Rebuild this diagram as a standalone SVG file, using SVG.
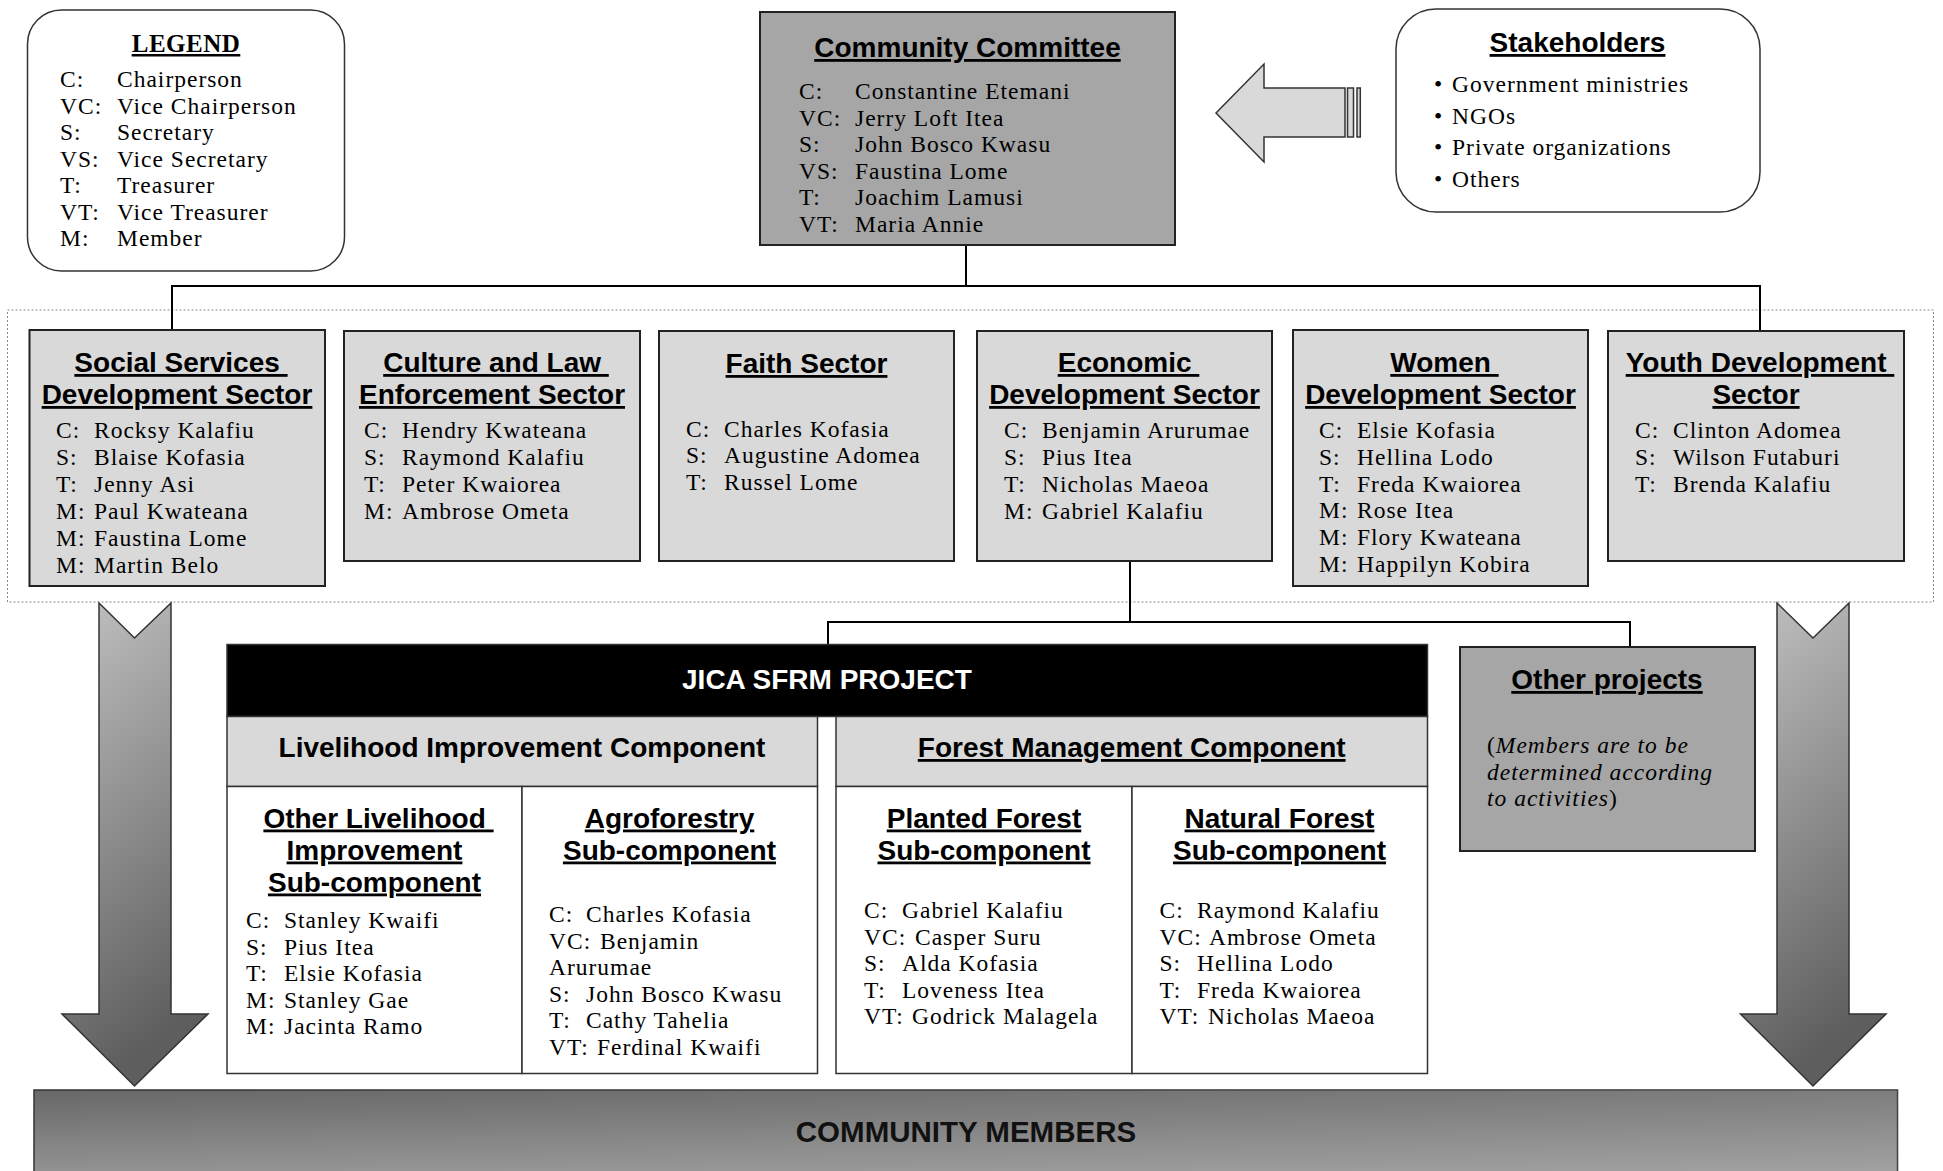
<svg xmlns="http://www.w3.org/2000/svg" width="1943" height="1171" viewBox="0 0 1943 1171">
  <style>
    .light { fill: #d9d9d9; stroke: #222; stroke-width: 2; }
    .mid { fill: #a6a6a6; stroke: #222; stroke-width: 2; }
    .white { fill: #ffffff; stroke: #333; stroke-width: 1.5; }
    .round { fill: #ffffff; stroke: #333; stroke-width: 1.5; }
    .hd { font-family: "Liberation Sans", Arial, sans-serif; font-weight: bold; font-size: 28px; text-anchor: middle; text-decoration: underline; text-decoration-thickness: 3px; fill: #000; }
    .hdplain { font-family: "Liberation Sans", Arial, sans-serif; font-weight: bold; font-size: 28px; text-anchor: middle; fill: #000; }
    .tx { font-family: "Liberation Serif", "Times New Roman", serif; font-size: 23.5px; letter-spacing: 1px; fill: #000; }
    .it { font-style: italic; }
    .conn { stroke: #000; stroke-width: 2; fill: none; }
    .arrow { stroke: #333; stroke-width: 1.5; }
  </style>
  <defs>
    <linearGradient id="downFill" x1="0" y1="0" x2="0.25" y2="1">
      <stop offset="0" stop-color="#c2c2c2"/>
      <stop offset="1" stop-color="#5e5e5e"/>
    </linearGradient>
    <linearGradient id="baseFill" x1="0" y1="1090" x2="0" y2="1190" gradientUnits="userSpaceOnUse">
      <stop offset="0" stop-color="#686868"/>
      <stop offset="1" stop-color="#9c9c9c"/>
    </linearGradient>
    <linearGradient id="baseSheen" x1="34" y1="0" x2="1897" y2="0" gradientUnits="userSpaceOnUse">
      <stop offset="0" stop-color="#ffffff" stop-opacity="0"/>
      <stop offset="1" stop-color="#ffffff" stop-opacity="0.14"/>
    </linearGradient>
  </defs>

  <!-- dotted frame around the sector row -->
  <rect x="7.5" y="310" width="1926" height="292" fill="none" stroke="#888" stroke-width="1" stroke-dasharray="2 2"/>

  <!-- connectors -->
  <g id="connectors">
    <line class="conn" x1="966" y1="245" x2="966" y2="286"/>
    <line class="conn" x1="171" y1="286" x2="1761" y2="286"/>
    <line class="conn" x1="172" y1="286" x2="172" y2="330"/>
    <line class="conn" x1="1760" y1="286" x2="1760" y2="331"/>
    <line class="conn" x1="1130" y1="561" x2="1130" y2="622"/>
    <line class="conn" x1="827" y1="622" x2="1631" y2="622"/>
    <line class="conn" x1="828" y1="622" x2="828" y2="644"/>
    <line class="conn" x1="1630" y1="622" x2="1630" y2="647"/>
  </g>

  <!-- legend -->
  <g id="legend">
    <rect class="round" x="27.5" y="10" width="317" height="261" rx="34" ry="34"/>
    <text class="tx" x="186" y="52" font-weight="bold" text-anchor="middle" text-decoration="underline" style="font-size:25px;letter-spacing:0.5px">LEGEND</text>
    <text class="tx" y="87"><tspan x="60">C:</tspan><tspan x="117">Chairperson</tspan></text>
    <text class="tx" y="113.5"><tspan x="60">VC:</tspan><tspan x="117">Vice Chairperson</tspan></text>
    <text class="tx" y="140"><tspan x="60">S:</tspan><tspan x="117">Secretary</tspan></text>
    <text class="tx" y="166.5"><tspan x="60">VS:</tspan><tspan x="117">Vice Secretary</tspan></text>
    <text class="tx" y="193"><tspan x="60">T:</tspan><tspan x="117">Treasurer</tspan></text>
    <text class="tx" y="219.5"><tspan x="60">VT:</tspan><tspan x="117">Vice Treasurer</tspan></text>
    <text class="tx" y="246"><tspan x="60">M:</tspan><tspan x="117">Member</tspan></text>
  </g>

  <!-- community committee -->
  <g id="committee">
    <rect class="mid" x="760" y="12" width="415" height="233"/>
    <text class="hd" x="967.5" y="57">Community Committee</text>
    <text class="tx" y="99"><tspan x="799">C:</tspan><tspan x="855">Constantine Etemani</tspan></text>
    <text class="tx" y="125.5"><tspan x="799">VC:</tspan><tspan x="855">Jerry Loft Itea</tspan></text>
    <text class="tx" y="152"><tspan x="799">S:</tspan><tspan x="855">John Bosco Kwasu</tspan></text>
    <text class="tx" y="178.5"><tspan x="799">VS:</tspan><tspan x="855">Faustina Lome</tspan></text>
    <text class="tx" y="205"><tspan x="799">T:</tspan><tspan x="855">Joachim Lamusi</tspan></text>
    <text class="tx" y="231.5"><tspan x="799">VT:</tspan><tspan x="855">Maria Annie</tspan></text>
  </g>

  <!-- arrow from stakeholders to committee -->
  <g id="stakeholder-arrow">
    <polygon class="arrow" fill="#d9d9d9" points="1216,113 1264,64 1264,88 1345,88 1345,137 1264,137 1264,162"/>
    <rect class="arrow" fill="#d9d9d9" x="1347.5" y="88" width="6" height="49"/>
    <rect class="arrow" fill="#d9d9d9" x="1357" y="88" width="3.3" height="49"/>
  </g>

  <!-- stakeholders -->
  <g id="stakeholders">
    <rect class="round" x="1396" y="9" width="364" height="203" rx="40" ry="40"/>
    <text class="hd" x="1577.5" y="52">Stakeholders</text>
    <text class="tx" y="92"><tspan x="1434">•</tspan><tspan x="1452">Government ministries</tspan></text>
    <text class="tx" y="123.5"><tspan x="1434">•</tspan><tspan x="1452">NGOs</tspan></text>
    <text class="tx" y="155"><tspan x="1434">•</tspan><tspan x="1452">Private organizations</tspan></text>
    <text class="tx" y="186.5"><tspan x="1434">•</tspan><tspan x="1452">Others</tspan></text>
  </g>

  <!-- sectors -->
  <g id="social-services">
    <rect class="light" x="29.5" y="330" width="295.5" height="256"/>
    <text class="hd" x="181" y="372" xml:space="preserve">Social Services </text>
    <text class="hd" x="177" y="404">Development Sector</text>
    <text class="tx" y="438"><tspan x="56">C:</tspan><tspan x="94">Rocksy Kalafiu</tspan></text>
    <text class="tx" y="465"><tspan x="56">S:</tspan><tspan x="94">Blaise Kofasia</tspan></text>
    <text class="tx" y="492"><tspan x="56">T:</tspan><tspan x="94">Jenny Asi</tspan></text>
    <text class="tx" y="519"><tspan x="56">M:</tspan><tspan x="94">Paul Kwateana</tspan></text>
    <text class="tx" y="546"><tspan x="56">M:</tspan><tspan x="94">Faustina Lome</tspan></text>
    <text class="tx" y="573"><tspan x="56">M:</tspan><tspan x="94">Martin Belo</tspan></text>
  </g>

  <g id="culture-law">
    <rect class="light" x="344" y="331" width="296" height="230"/>
    <text class="hd" x="496" y="372" xml:space="preserve">Culture and Law </text>
    <text class="hd" x="492" y="404">Enforcement Sector</text>
    <text class="tx" y="438"><tspan x="364">C:</tspan><tspan x="402">Hendry Kwateana</tspan></text>
    <text class="tx" y="465"><tspan x="364">S:</tspan><tspan x="402">Raymond Kalafiu</tspan></text>
    <text class="tx" y="492"><tspan x="364">T:</tspan><tspan x="402">Peter Kwaiorea</tspan></text>
    <text class="tx" y="519"><tspan x="364">M:</tspan><tspan x="402">Ambrose Ometa</tspan></text>
  </g>

  <g id="faith">
    <rect class="light" x="659" y="331" width="295" height="230"/>
    <text class="hd" x="806.5" y="373">Faith Sector</text>
    <text class="tx" y="436.5"><tspan x="686">C:</tspan><tspan x="724">Charles Kofasia</tspan></text>
    <text class="tx" y="463"><tspan x="686">S:</tspan><tspan x="724">Augustine Adomea</tspan></text>
    <text class="tx" y="489.5"><tspan x="686">T:</tspan><tspan x="724">Russel Lome</tspan></text>
  </g>

  <g id="economic">
    <rect class="light" x="977" y="331" width="295" height="230"/>
    <text class="hd" x="1128.5" y="372" xml:space="preserve">Economic </text>
    <text class="hd" x="1124.5" y="404">Development Sector</text>
    <text class="tx" y="438"><tspan x="1004">C:</tspan><tspan x="1042">Benjamin Arurumae</tspan></text>
    <text class="tx" y="465"><tspan x="1004">S:</tspan><tspan x="1042">Pius Itea</tspan></text>
    <text class="tx" y="492"><tspan x="1004">T:</tspan><tspan x="1042">Nicholas Maeoa</tspan></text>
    <text class="tx" y="518.5"><tspan x="1004">M:</tspan><tspan x="1042">Gabriel Kalafiu</tspan></text>
  </g>

  <g id="women">
    <rect class="light" x="1293" y="330" width="295" height="256"/>
    <text class="hd" x="1444.5" y="372" xml:space="preserve">Women </text>
    <text class="hd" x="1440.5" y="404">Development Sector</text>
    <text class="tx" y="438"><tspan x="1319">C:</tspan><tspan x="1357">Elsie Kofasia</tspan></text>
    <text class="tx" y="465"><tspan x="1319">S:</tspan><tspan x="1357">Hellina Lodo</tspan></text>
    <text class="tx" y="491.5"><tspan x="1319">T:</tspan><tspan x="1357">Freda Kwaiorea</tspan></text>
    <text class="tx" y="518"><tspan x="1319">M:</tspan><tspan x="1357">Rose Itea</tspan></text>
    <text class="tx" y="545"><tspan x="1319">M:</tspan><tspan x="1357">Flory Kwateana</tspan></text>
    <text class="tx" y="572"><tspan x="1319">M:</tspan><tspan x="1357">Happilyn Kobira</tspan></text>
  </g>

  <g id="youth">
    <rect class="light" x="1608" y="331" width="296" height="230"/>
    <text class="hd" x="1760" y="372" xml:space="preserve">Youth Development </text>
    <text class="hd" x="1756" y="404">Sector</text>
    <text class="tx" y="438"><tspan x="1635">C:</tspan><tspan x="1673">Clinton Adomea</tspan></text>
    <text class="tx" y="465"><tspan x="1635">S:</tspan><tspan x="1673">Wilson Futaburi</tspan></text>
    <text class="tx" y="492"><tspan x="1635">T:</tspan><tspan x="1673">Brenda Kalafiu</tspan></text>
  </g>

  <!-- downward arrows to community members -->
  <g id="arrow-left">
    <polygon class="arrow" fill="url(#downFill)" points="99,603 134.5,638 171,603 171,1014 208,1014 134.5,1086 62,1014 99,1014"/>
  </g>
  <g id="arrow-right">
    <polygon class="arrow" fill="url(#downFill)" points="1777,603 1813,638 1849,603 1849,1014 1886,1014 1813,1086 1740.5,1014 1777,1014"/>
  </g>

  <!-- JICA SFRM project -->
  <g id="jica-project">
    <rect x="227" y="644.5" width="1200.5" height="72" fill="#000" stroke="#333" stroke-width="1.5"/>
    <text class="hdplain" x="827" y="689" style="fill:#fff">JICA SFRM PROJECT</text>
  </g>

  <g id="livelihood-component">
    <rect class="white" x="227" y="716.5" width="590.5" height="70" style="fill:#d9d9d9"/>
    <text class="hdplain" x="522" y="757">Livelihood Improvement Component</text>
  </g>

  <g id="forest-component">
    <rect class="white" x="836" y="716.5" width="591.5" height="70" style="fill:#d9d9d9"/>
    <text class="hd" x="1131.7" y="757">Forest Management Component</text>
  </g>

  <g id="other-livelihood">
    <rect class="white" x="227" y="786.5" width="295" height="287"/>
    <text class="hd" x="378.5" y="827.5" xml:space="preserve">Other Livelihood </text>
    <text class="hd" x="374.5" y="859.5">Improvement</text>
    <text class="hd" x="374.5" y="891.5">Sub-component</text>
    <text class="tx" y="928"><tspan x="246">C:</tspan><tspan x="284">Stanley Kwaifi</tspan></text>
    <text class="tx" y="954.5"><tspan x="246">S:</tspan><tspan x="284">Pius Itea</tspan></text>
    <text class="tx" y="981"><tspan x="246">T:</tspan><tspan x="284">Elsie Kofasia</tspan></text>
    <text class="tx" y="1007.5"><tspan x="246">M:</tspan><tspan x="284">Stanley Gae</tspan></text>
    <text class="tx" y="1034"><tspan x="246">M:</tspan><tspan x="284">Jacinta Ramo</tspan></text>
  </g>

  <g id="agroforestry">
    <rect class="white" x="522" y="786.5" width="295.5" height="287"/>
    <text class="hd" x="669.5" y="827.5">Agroforestry</text>
    <text class="hd" x="669.5" y="859.5">Sub-component</text>
    <text class="tx" y="922"><tspan x="549">C:</tspan><tspan x="586">Charles Kofasia</tspan></text>
    <text class="tx" y="948.5"><tspan x="549">VC:</tspan><tspan x="600">Benjamin</tspan></text>
    <text class="tx" y="975"><tspan x="549">Arurumae</tspan></text>
    <text class="tx" y="1001.5"><tspan x="549">S:</tspan><tspan x="586">John Bosco Kwasu</tspan></text>
    <text class="tx" y="1028"><tspan x="549">T:</tspan><tspan x="586">Cathy Tahelia</tspan></text>
    <text class="tx" y="1054.5"><tspan x="549">VT:</tspan><tspan x="597">Ferdinal Kwaifi</tspan></text>
  </g>

  <g id="planted-forest">
    <rect class="white" x="836" y="786.5" width="296" height="287"/>
    <text class="hd" x="984" y="827.5">Planted Forest</text>
    <text class="hd" x="984" y="859.5">Sub-component</text>
    <text class="tx" y="918"><tspan x="864">C:</tspan><tspan x="902">Gabriel Kalafiu</tspan></text>
    <text class="tx" y="944.5"><tspan x="864">VC:</tspan><tspan x="915">Casper Suru</tspan></text>
    <text class="tx" y="971"><tspan x="864">S:</tspan><tspan x="902">Alda Kofasia</tspan></text>
    <text class="tx" y="997.5"><tspan x="864">T:</tspan><tspan x="902">Loveness Itea</tspan></text>
    <text class="tx" y="1024"><tspan x="864">VT:</tspan><tspan x="912">Godrick Malagela</tspan></text>
  </g>

  <g id="natural-forest">
    <rect class="white" x="1132" y="786.5" width="295.5" height="287"/>
    <text class="hd" x="1279.5" y="827.5">Natural Forest</text>
    <text class="hd" x="1279.5" y="859.5">Sub-component</text>
    <text class="tx" y="918"><tspan x="1159.5">C:</tspan><tspan x="1197">Raymond Kalafiu</tspan></text>
    <text class="tx" y="944.5"><tspan x="1159.5">VC:</tspan><tspan x="1209">Ambrose Ometa</tspan></text>
    <text class="tx" y="971"><tspan x="1159.5">S:</tspan><tspan x="1197">Hellina Lodo</tspan></text>
    <text class="tx" y="997.5"><tspan x="1159.5">T:</tspan><tspan x="1197">Freda Kwaiorea</tspan></text>
    <text class="tx" y="1024"><tspan x="1159.5">VT:</tspan><tspan x="1208">Nicholas Maeoa</tspan></text>
  </g>

  <!-- other projects -->
  <g id="other-projects">
    <rect class="mid" x="1460" y="647" width="295" height="204"/>
    <text class="hd" x="1607" y="689">Other projects</text>
    <text class="tx" x="1487" y="753">(<tspan class="it">Members are to be</tspan></text>
    <text class="tx it" x="1487" y="779.5">determined according</text>
    <text class="tx" x="1487" y="806"><tspan class="it">to activities</tspan>)</text>
  </g>

  <!-- community members -->
  <g id="community-members">
    <rect x="34" y="1090" width="1863.5" height="100" fill="url(#baseFill)" stroke="#333" stroke-width="1.5"/>
    <rect x="34" y="1090" width="1863.5" height="100" fill="url(#baseSheen)"/>
    <text class="hdplain" x="966" y="1142" style="fill:#111;font-size:29.5px">COMMUNITY MEMBERS</text>
  </g>
</svg>
